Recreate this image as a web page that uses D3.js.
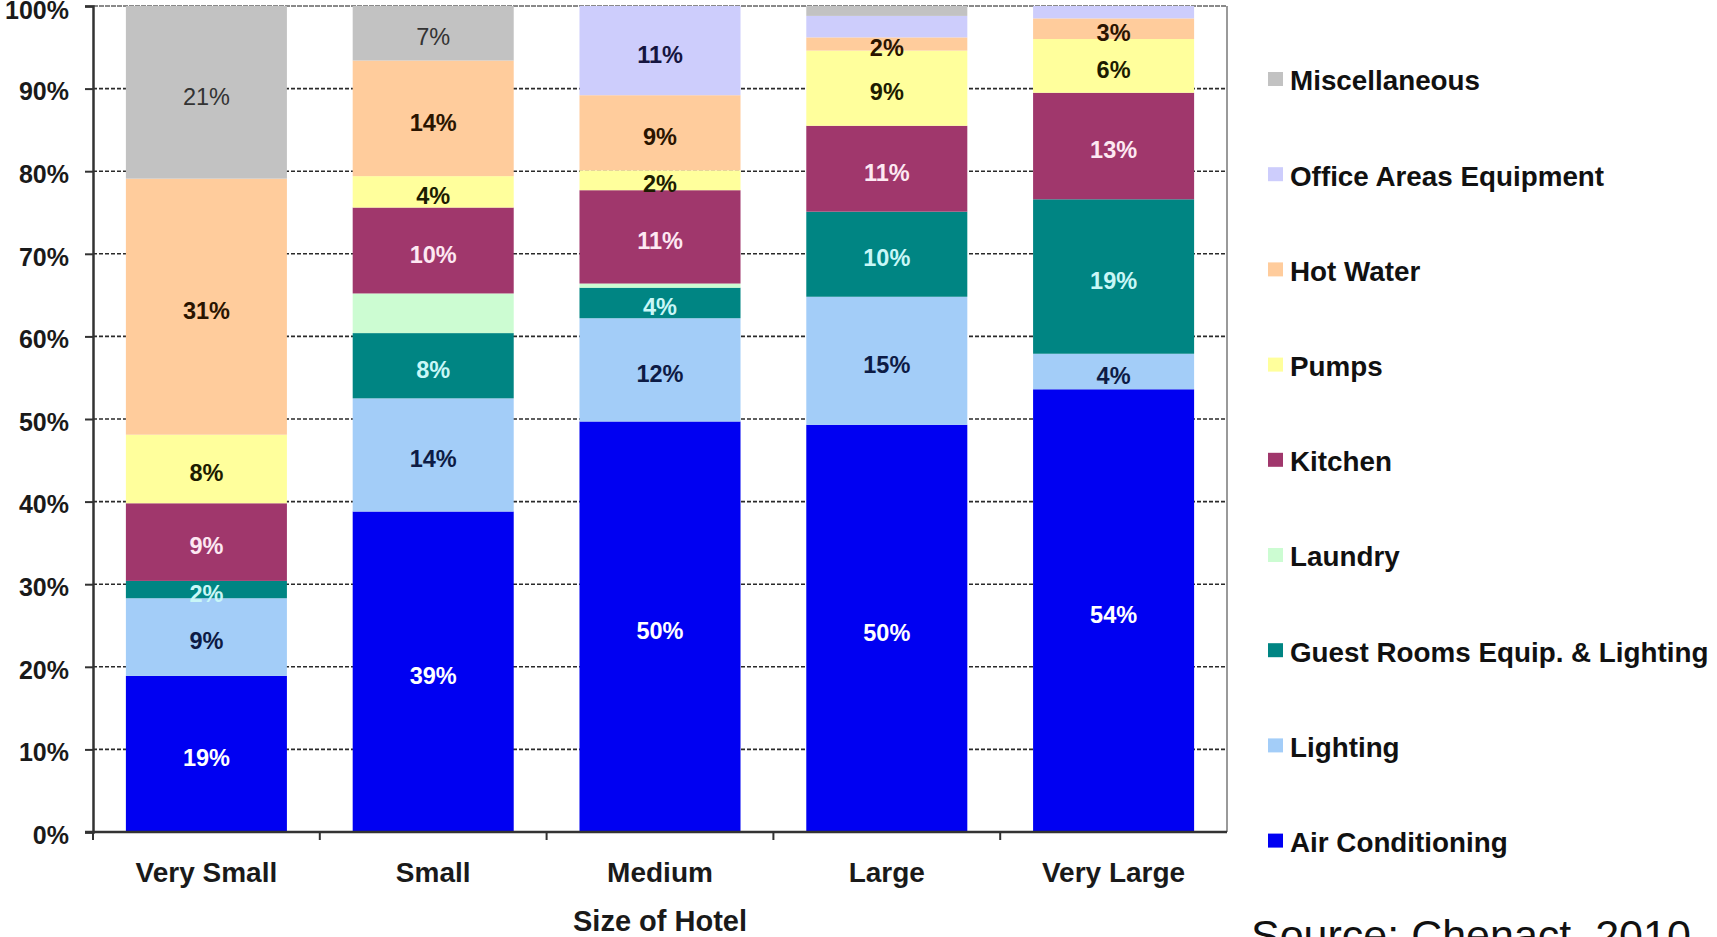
<!DOCTYPE html>
<html>
<head>
<meta charset="utf-8">
<script src="https://cdn.jsdelivr.net/npm/d3@7/dist/d3.min.js"></script>
<style>
  html, body { margin: 0; padding: 0; background: #fff; }
  svg { display: block; font-family: "Liberation Sans", Arial, sans-serif; }
</style>
</head>
<body>
<svg id="chart" width="1717" height="937"></svg>
<script>
// ---------- data ----------
const categories = ["Very Small", "Small", "Medium", "Large", "Very Large"];

const seriesNames = ["Air Conditioning", "Lighting", "Guest Rooms Equip. & Lighting", "Laundry",
  "Kitchen", "Pumps", "Hot Water", "Office Areas Equipment", "Miscellaneous"];

const airConditioning = [18.9, 38.8, 49.7, 49.3, 53.6];
const lighting        = [9.4, 13.7, 12.5, 15.5, 4.3];
const guestRooms      = [2.1, 7.9, 3.7, 10.3, 18.7];
const laundry         = [0, 4.8, 0.5, 0, 0];
const kitchen         = [9.4, 10.4, 11.3, 10.4, 12.9];
const pumps           = [8.3, 3.8, 2.4, 9.1, 6.5];
const hotWater        = [31.0, 14.0, 9.1, 1.6, 2.5];
const officeAreas     = [0, 0, 10.8, 2.6, 1.5];
const miscellaneous   = [20.9, 6.6, 0, 1.2, 0];

const airConditioningLabels = ["19%", "39%", "50%", "50%", "54%"];
const lightingLabels        = ["9%", "14%", "12%", "15%", "4%"];
const guestRoomsLabels      = ["2%", "8%", "4%", "10%", "19%"];
const laundryLabels         = [null, null, null, null, null];
const kitchenLabels         = ["9%", "10%", "11%", "11%", "13%"];
const pumpsLabels           = ["8%", "4%", "2%", "9%", "6%"];
const hotWaterLabels        = ["31%", "14%", "9%", "2%", "3%"];
const officeAreasLabels     = [null, null, "11%", null, null];
const miscellaneousLabels   = ["21%", "7%", null, null, null];

const yTicks = [0, 10, 20, 30, 40, 50, 60, 70, 80, 90, 100];
const yTickLabels = ["0%", "10%", "20%", "30%", "40%", "50%", "60%", "70%", "80%", "90%", "100%"];
const xTitle = "Size of Hotel";
const sourceText = "Source: Chenact, 2010";

// ---------- styles ----------
const seriesValues = [airConditioning, lighting, guestRooms, laundry, kitchen, pumps, hotWater, officeAreas, miscellaneous];
const seriesLabels = [airConditioningLabels, lightingLabels, guestRoomsLabels, laundryLabels, kitchenLabels,
  pumpsLabels, hotWaterLabels, officeAreasLabels, miscellaneousLabels];
const fillColors = ["#0000f2", "#a3cdf8", "#008583", "#ccfcd2", "#a0376c", "#ffff9c", "#ffcc9c", "#cdcdfc", "#c2c2c2"];
const labelColors = ["#ffffff", "#0d1b45", "#c9f7f7", "#222", "#fde8f2", "#1c1c00", "#2a1400", "#151540", "#333333"];
const labelWeights = ["bold", "bold", "bold", "bold", "bold", "bold", "bold", "bold", "normal"];

// ---------- layout ----------
const svg = d3.select("#chart");
const plotLeft = 93, plotRight = 1227, plotTop = 6, plotBottom = 832;

const x = d3.scaleBand().domain(categories).range([plotLeft, plotRight])
  .paddingInner(0.29).paddingOuter(0.145);
const y = d3.scaleLinear().domain([0, 100]).range([plotBottom, plotTop]);

// stacked data
const table = categories.map((c, i) => {
  const row = { category: c };
  seriesNames.forEach((s, j) => { row[s] = seriesValues[j][i]; });
  return row;
});
const stacked = d3.stack().keys(seriesNames)(table);

// gridlines
const grid = svg.append("g");
grid.selectAll("line.g").data(yTicks.filter(t => t > 0 && t < 100)).join("line")
  .attr("x1", plotLeft).attr("x2", plotRight)
  .attr("y1", d => y(d)).attr("y2", d => y(d))
  .attr("stroke", "#2a2a2a").attr("stroke-width", 1.6).attr("stroke-dasharray", "4,2");
// top border (100%)
grid.append("line")
  .attr("x1", plotLeft).attr("x2", plotRight).attr("y1", y(100)).attr("y2", y(100))
  .attr("stroke", "#8a8a8a").attr("stroke-width", 2).attr("stroke-dasharray", "5,1");
// right border
grid.append("line")
  .attr("x1", plotRight).attr("x2", plotRight).attr("y1", y(100)).attr("y2", y(0))
  .attr("stroke", "#9a9a9a").attr("stroke-width", 2);

// bars
const layers = svg.append("g").selectAll("g").data(stacked).join("g")
  .attr("fill", (d, i) => fillColors[i]);
layers.selectAll("rect").data(d => d).join("rect")
  .attr("x", d => x(d.data.category))
  .attr("width", x.bandwidth())
  .attr("y", d => y(d[1]))
  .attr("height", d => Math.max(0, y(d[0]) - y(d[1])));

// bar labels
const labelG = svg.append("g");
stacked.forEach((layer, si) => {
  layer.forEach((seg, ci) => {
    const txt = seriesLabels[si][ci];
    if (!txt) return;
    labelG.append("text")
      .attr("x", x(seg.data.category) + x.bandwidth() / 2)
      .attr("y", (y(seg[0]) + y(seg[1])) / 2 + 6)
      .attr("text-anchor", "middle")
      .attr("dominant-baseline", "middle")
      .attr("font-size", 23.5)
      .attr("font-weight", labelWeights[si])
      .attr("fill", labelColors[si])
      .text(txt);
  });
});

// y axis
const yAxis = d3.axisLeft(y).tickValues(yTicks)
  .tickFormat((d, i) => yTickLabels[i]).tickSize(8).tickPadding(16);
const gy = svg.append("g").attr("transform", `translate(${plotLeft},0)`).call(yAxis);
gy.select(".domain").attr("stroke", "#333").attr("stroke-width", 2.5);
gy.selectAll(".tick line").attr("stroke", "#333").attr("stroke-width", 2);
gy.selectAll(".tick text").attr("font-size", 25).attr("font-weight", "bold")
  .attr("fill", "#1a1a1a").attr("font-family", "'Liberation Sans', Arial, sans-serif")
  .attr("dy", d => d === 100 ? "0.5em" : "0.45em");

// x axis line and boundary ticks
const gx = svg.append("g");
gx.append("line").attr("x1", plotLeft - 8).attr("x2", plotRight)
  .attr("y1", y(0)).attr("y2", y(0)).attr("stroke", "#333").attr("stroke-width", 2.5);
const boundaries = d3.range(categories.length + 1).map(i => plotLeft + i * x.step());
gx.selectAll("line.t").data(boundaries.slice(0, categories.length)).join("line")
  .attr("x1", d => d).attr("x2", d => d)
  .attr("y1", y(0)).attr("y2", y(0) + 8)
  .attr("stroke", "#333").attr("stroke-width", 2);
gx.selectAll("text").data(categories).join("text")
  .attr("x", d => x(d) + x.bandwidth() / 2)
  .attr("y", 882)
  .attr("text-anchor", "middle")
  .attr("font-size", 28).attr("font-weight", "bold").attr("fill", "#1a1a1a")
  .text(d => d);

svg.append("text").attr("x", (plotLeft + plotRight) / 2).attr("y", 931)
  .attr("text-anchor", "middle").attr("font-size", 29).attr("font-weight", "bold")
  .attr("fill", "#1a1a1a").text(xTitle);

// legend (top to bottom: reverse of stack order)
const legendOrder = d3.range(seriesNames.length).reverse();
const legend = svg.append("g");
const legendItems = legend.selectAll("g").data(legendOrder).join("g")
  .attr("transform", (d, i) => `translate(1268, ${83 + i * 95.2})`);
legendItems.append("rect")
  .attr("x", 0).attr("y", -11).attr("width", 15).attr("height", 14)
  .attr("fill", d => fillColors[d]);
legendItems.append("text")
  .attr("x", 22).attr("y", 0)
  .attr("dominant-baseline", "middle")
  .attr("font-size", 27.8).attr("font-weight", "bold").attr("fill", "#111")
  .text(d => seriesNames[d]);

// source
svg.append("text").attr("x", 1251).attr("y", 950)
  .attr("font-size", 43).attr("fill", "#111").text(sourceText);
</script>
</body>
</html>
